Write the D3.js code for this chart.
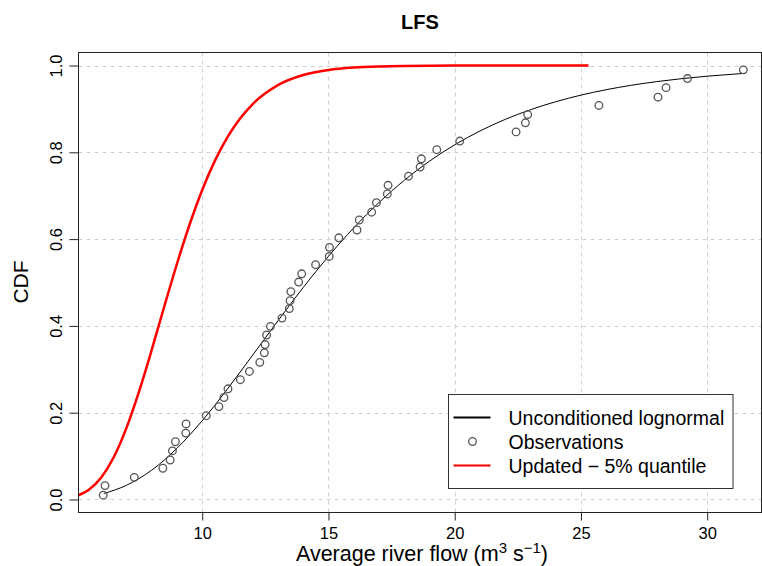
<!DOCTYPE html>
<html>
<head>
<meta charset="utf-8">
<script src="https://cdn.jsdelivr.net/npm/d3@7"></script>
<style>
  body { margin: 0; background: #fff; }
  svg text { font-family: "Liberation Sans", Arial, sans-serif; fill: #000; }
</style>
</head>
<body>
<div id="chart"></div>
<script>
// observations (flow, plotting position)
var obsFlow = [6.08, 6.15, 7.31, 8.44, 8.73, 8.82, 8.94, 9.35, 9.36, 10.16,
    10.66, 10.86, 11.02, 11.51, 11.87, 12.28, 12.46, 12.49, 12.55, 12.70,
    13.16, 13.45, 13.48, 13.51, 13.82, 13.94, 14.49, 15.03, 15.04, 15.41,
    16.13, 16.22, 16.71, 16.90, 17.33, 17.36, 18.17, 18.63, 18.68, 19.29,
    20.20, 22.43, 22.80, 22.89, 25.71, 28.05, 28.37, 29.22, 31.43];
var obsCdf = [0.010, 0.032, 0.051, 0.072, 0.091, 0.112, 0.133, 0.153, 0.174, 0.193,
    0.214, 0.235, 0.255, 0.276, 0.295, 0.316, 0.338, 0.357, 0.379, 0.399,
    0.418, 0.440, 0.458, 0.479, 0.501, 0.520, 0.541, 0.560, 0.581, 0.603,
    0.621, 0.644, 0.662, 0.684, 0.704, 0.724, 0.745, 0.766, 0.785, 0.806,
    0.826, 0.847, 0.868, 0.887, 0.908, 0.927, 0.949, 0.970, 0.990];

// unconditioned lognormal curve
var lognormFlow = [6.1, 7, 8, 9, 10, 11, 12, 13, 14, 15, 16, 17, 18, 19, 20,
    21, 22, 23, 24, 25, 26, 27, 28, 29, 30, 31, 31.5];
var lognormCdf = [0.0138, 0.0327, 0.0676, 0.1180, 0.1816, 0.2547, 0.3328, 0.4118,
    0.4886, 0.5604, 0.6259, 0.6842, 0.7354, 0.7796, 0.8173, 0.8491, 0.8759,
    0.8981, 0.9166, 0.9318, 0.9443, 0.9545, 0.9629, 0.9698, 0.9754, 0.9799, 0.9819];

// updated - 5% quantile curve
var updatedFlow = [5.1, 5.5, 6, 6.5, 7, 7.5, 8, 8.5, 9, 9.5, 10, 10.5, 11, 11.5,
    12, 13, 14, 15, 16, 17, 18, 20, 22, 25.3];
var updatedCdf = [0.0097, 0.0220, 0.0506, 0.0978, 0.1649, 0.2491, 0.3449, 0.4453,
    0.5432, 0.6337, 0.7133, 0.7803, 0.8349, 0.8780, 0.9113, 0.9548, 0.9780,
    0.9896, 0.9952, 0.9978, 0.9990, 0.9998, 1.0, 1.0];

var xTicks = [10, 15, 20, 25, 30];
var yTicks = [0, 0.2, 0.4, 0.6, 0.8, 1.0];
var legendLabels = ['Unconditioned lognormal', 'Observations', 'Updated \u2212 5% quantile'];

var svgWidth = 762;
var svgHeight = 566;
var plot = {left: 78.5, right: 761.5, top: 52.5, bottom: 512.5};

var svg = d3.select("#chart")
    .append("svg")
    .attr("width", svgWidth)
    .attr("height", svgHeight);

var x = d3.scaleLinear().domain([5.1, 32.15]).range([plot.left, plot.right]);
var y = d3.scaleLinear().domain([-0.03, 1.03]).range([plot.bottom, plot.top]);

// grid
var grid = svg.append("g")
    .attr("stroke", "#cfcfcf")
    .attr("stroke-width", 1)
    .attr("stroke-dasharray", "4,4");
grid.selectAll(".vgrid").data(xTicks).enter().append("line")
    .attr("x1", d => Math.round(x(d)) + 0.5).attr("x2", d => Math.round(x(d)) + 0.5)
    .attr("y1", plot.top).attr("y2", plot.bottom);
grid.selectAll(".hgrid").data(yTicks).enter().append("line")
    .attr("x1", plot.left).attr("x2", plot.right)
    .attr("y1", d => Math.round(y(d)) + 0.5).attr("y2", d => Math.round(y(d)) + 0.5);

// curves
var line = d3.line().curve(d3.curveMonotoneX);

svg.append("path")
    .attr("d", line(updatedFlow.map((v, i) => [x(v), y(updatedCdf[i])])))
    .attr("fill", "none")
    .attr("stroke", "#ff0000")
    .attr("stroke-width", 2.5);

svg.append("path")
    .attr("d", line(lognormFlow.map((v, i) => [x(v), y(lognormCdf[i])])))
    .attr("fill", "none")
    .attr("stroke", "#000")
    .attr("stroke-width", 1);

svg.append("g").selectAll("circle")
    .data(obsFlow)
    .enter()
    .append("circle")
    .attr("cx", (d) => x(d))
    .attr("cy", (d, i) => y(obsCdf[i]))
    .attr("r", 3.8)
    .attr("fill", "none")
    .attr("stroke", "#555")
    .attr("stroke-width", 1.3);

// axes
var xAxis = svg.append("g")
    .attr("transform", `translate(0, ${plot.bottom})`)
    .call(d3.axisBottom(x).tickValues(xTicks).tickSize(8).tickPadding(4));
xAxis.select(".domain").remove();
xAxis.selectAll("line").attr("stroke", "#222");
xAxis.selectAll("text")
    .attr("font-size", "16.5px")
    .attr("dy", "0")
    .attr("y", 26.5)
    .attr("fill", "#222");

var yAxis = svg.append("g")
    .attr("transform", `translate(${plot.left}, 0)`)
    .call(d3.axisLeft(y).tickValues(yTicks).tickSize(9).tickFormat(d3.format(".1f")));
yAxis.select(".domain").remove();
yAxis.selectAll("line").attr("stroke", "#222");
yAxis.selectAll("text")
    .attr("font-size", "16.5px")
    .attr("text-anchor", "middle")
    .attr("transform", "rotate(-90)")
    .attr("x", 0)
    .attr("dy", "0")
    .attr("y", -16.5)
    .attr("fill", "#222");

// box
svg.append("rect")
    .attr("x", plot.left).attr("y", plot.top)
    .attr("width", plot.right - plot.left).attr("height", plot.bottom - plot.top)
    .attr("fill", "none")
    .attr("stroke", "#222")
    .attr("stroke-width", 1);

// title and axis labels
svg.append("text")
    .text("LFS")
    .attr("x", 420)
    .attr("y", 29)
    .attr("text-anchor", "middle")
    .attr("font-size", "20px")
    .attr("font-weight", "bold");

var xLabel = svg.append("text")
    .attr("x", 422)
    .attr("y", 561)
    .attr("text-anchor", "middle")
    .attr("font-size", "21.5px");
xLabel.append("tspan").text("Average river flow (m");
xLabel.append("tspan").text("3").attr("font-size", "15px").attr("dy", -8);
xLabel.append("tspan").text(" s").attr("dy", 8);
xLabel.append("tspan").text("\u22121").attr("font-size", "15px").attr("dy", -8);
xLabel.append("tspan").text(")").attr("dy", 8);

svg.append("text")
    .text("CDF")
    .attr("transform", "translate(28, 282) rotate(-90)")
    .attr("text-anchor", "middle")
    .attr("font-size", "21px");

// legend
var legend = svg.append("g").attr("transform", "translate(448.5, 394.5)");
legend.append("rect")
    .attr("width", 284.5).attr("height", 94)
    .attr("fill", "#fff")
    .attr("stroke", "#333")
    .attr("stroke-width", 1);

var rowY = [23, 47, 71];
legend.append("line")
    .attr("x1", 5).attr("x2", 42).attr("y1", rowY[0]).attr("y2", rowY[0])
    .attr("stroke", "#000").attr("stroke-width", 2);
legend.append("circle")
    .attr("cx", 24).attr("cy", rowY[1]).attr("r", 3.8)
    .attr("fill", "none").attr("stroke", "#555").attr("stroke-width", 1.3);
legend.append("line")
    .attr("x1", 5).attr("x2", 42).attr("y1", rowY[2]).attr("y2", rowY[2])
    .attr("stroke", "#ff0000").attr("stroke-width", 2);

legend.selectAll(".legText")
    .data(legendLabels)
    .enter()
    .append("text")
    .text(d => d)
    .attr("x", 60)
    .attr("y", (d, i) => rowY[i] + 7)
    .attr("font-size", "19.5px");
</script>
</body>
</html>
